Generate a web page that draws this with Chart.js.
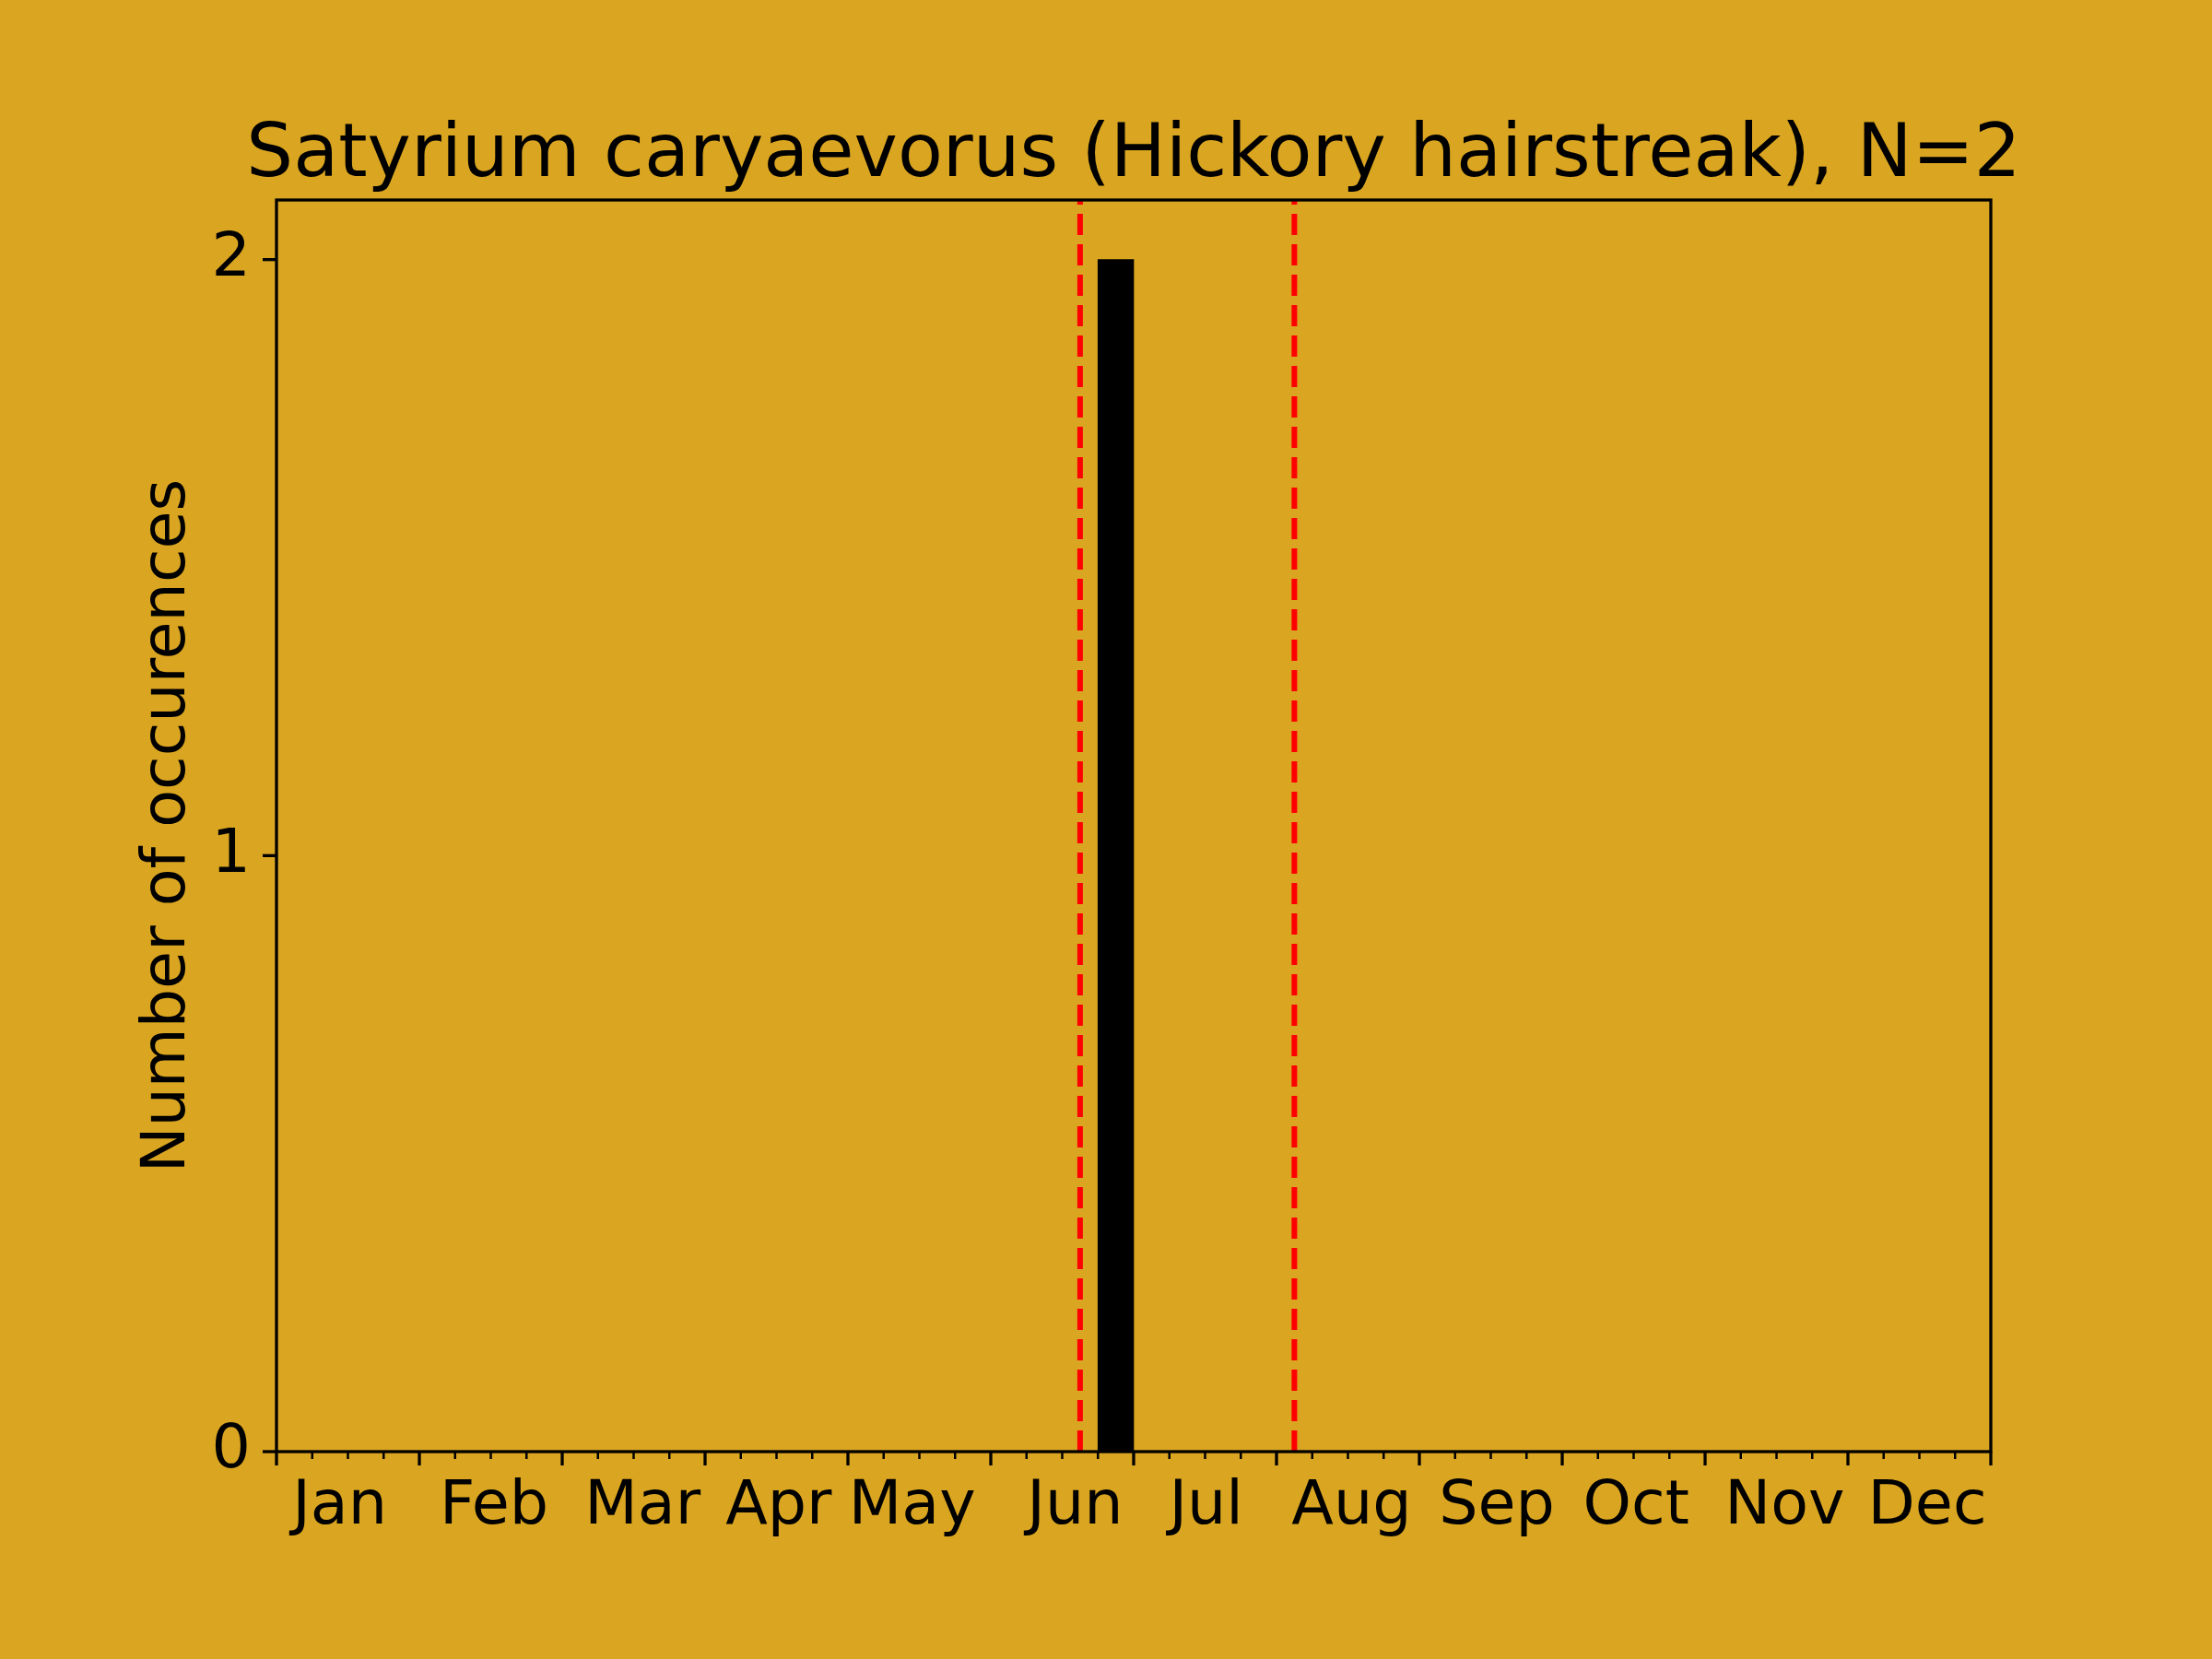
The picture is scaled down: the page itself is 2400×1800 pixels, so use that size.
<!DOCTYPE html>
<html>
<head>
<meta charset="utf-8">
<script src="https://cdn.jsdelivr.net/npm/chart.js@4"></script>
<style>
  html, body { margin: 0; padding: 0; background: #daa520; }
  canvas { display: block; }
</style>
</head>
<body>
<canvas id="phenoChart" width="2400" height="1800"></canvas>
<script>
// weekly bins, 4 per month
const monthLabels = ['Jan', 'Feb', 'Mar', 'Apr', 'May', 'Jun', 'Jul', 'Aug', 'Sep', 'Oct', 'Nov', 'Dec'];
// where each month label sits, in week units
const monthLabelPos = [1.77, 6.09, 10.25, 14.06, 17.8, 22.36, 26.03, 30.1, 34.17, 38.07, 42.23, 46.22];
const weekCounts = [
  0, 0, 0, 0,  0, 0, 0, 0,  0, 0, 0, 0,  0, 0, 0, 0,
  0, 0, 0, 0,  0, 0, 0, 2,  0, 0, 0, 0,  0, 0, 0, 0,
  0, 0, 0, 0,  0, 0, 0, 0,  0, 0, 0, 0,  0, 0, 0, 0
];
const flightWindow = [22.5, 28.5]; // red dashed lines, in week units
const yTickValues = [0, 1, 2];
const chartTitle = 'Satyrium caryaevorus (Hickory hairstreak), N=2';
const yTitle = 'Number of occurences';

const FONT = '"DejaVu Sans"';
Chart.defaults.font.family = FONT;
Chart.defaults.color = '#000';

const framePlugin = {
  id: 'frame',
  beforeDraw(chart) {
    const ctx = chart.ctx;
    ctx.save();
    ctx.fillStyle = '#daa520';
    ctx.fillRect(0, 0, chart.width, chart.height);
    ctx.restore();
  },
  afterDatasetsDraw(chart) {
    const { ctx, chartArea: a, scales: { x, y } } = chart;
    ctx.save();

    // red dashed window lines
    ctx.strokeStyle = '#ff0000';
    ctx.lineWidth = 6;
    ctx.setLineDash([23, 10]);
    flightWindow.forEach(v => {
      const px = x.getPixelForValue(v);
      ctx.beginPath();
      ctx.moveTo(px, a.bottom);
      ctx.lineTo(px, a.top);
      ctx.stroke();
    });
    ctx.setLineDash([]);

    // x ticks: long at month starts, short at each week
    ctx.strokeStyle = '#000';
    for (let i = 0; i <= weekCounts.length; i++) {
      const px = x.getPixelForValue(i);
      const major = i % 4 === 0;
      ctx.lineWidth = major ? 3.3 : 2.5;
      ctx.beginPath();
      ctx.moveTo(px, a.bottom);
      ctx.lineTo(px, a.bottom + (major ? 15 : 8));
      ctx.stroke();
    }
    // y ticks
    ctx.lineWidth = 3.3;
    yTickValues.forEach(v => {
      const py = y.getPixelForValue(v);
      ctx.beginPath();
      ctx.moveTo(a.left - 15, py);
      ctx.lineTo(a.left, py);
      ctx.stroke();
    });

    // spines
    ctx.lineWidth = 3.3;
    ctx.strokeRect(a.left, a.top, a.right - a.left, a.bottom - a.top);

    // title
    ctx.fillStyle = '#000';
    ctx.font = '80px ' + FONT;
    ctx.textAlign = 'center';
    ctx.textBaseline = 'alphabetic';
    ctx.fillText(chartTitle, (a.left + a.right) / 2, 191);

    // y axis title
    ctx.font = '66.7px ' + FONT;
    ctx.translate(200, (a.top + a.bottom) / 2);
    ctx.rotate(-Math.PI / 2);
    ctx.fillText(yTitle, 0, 0);
    ctx.restore();
  }
};

new Chart(document.getElementById('phenoChart'), {
  type: 'bar',
  data: {
    datasets: [{
      data: weekCounts.map((c, i) => ({ x: i + 0.5, y: c })),
      backgroundColor: '#000',
      borderWidth: 0,
      categoryPercentage: 1.0,
      barPercentage: 1.0
    }]
  },
  options: {
    responsive: false,
    animation: false,
    layout: { padding: { top: 217, right: 240, left: 0, bottom: 0 } },
    plugins: { legend: { display: false }, tooltip: { enabled: false }, title: { display: false } },
    scales: {
      x: {
        type: 'linear',
        offset: false,
        min: 0,
        max: weekCounts.length,
        grid: { display: false, offset: false },
        border: { display: false },
        afterBuildTicks: s => { s.ticks = monthLabelPos.map(v => ({ value: v })); },
        afterFit: s => { s.height = 225; s.paddingLeft = 0; s.paddingRight = 0; },
        ticks: {
          autoSkip: false,
          maxRotation: 0,
          padding: 13,
          font: { size: 66.7 },
          callback: (v, i) => monthLabels[i]
        }
      },
      y: {
        min: 0,
        max: 2.1,
        grid: { display: false },
        border: { display: false },
        afterFit: s => { s.width = 300; },
        ticks: {
          stepSize: 1,
          includeBounds: false,
          padding: 20,
          font: { size: 66.7 },
          callback: v => (yTickValues.includes(v) ? String(v) : '')
        }
      }
    }
  },
  plugins: [framePlugin]
});
</script>
</body>
</html>
